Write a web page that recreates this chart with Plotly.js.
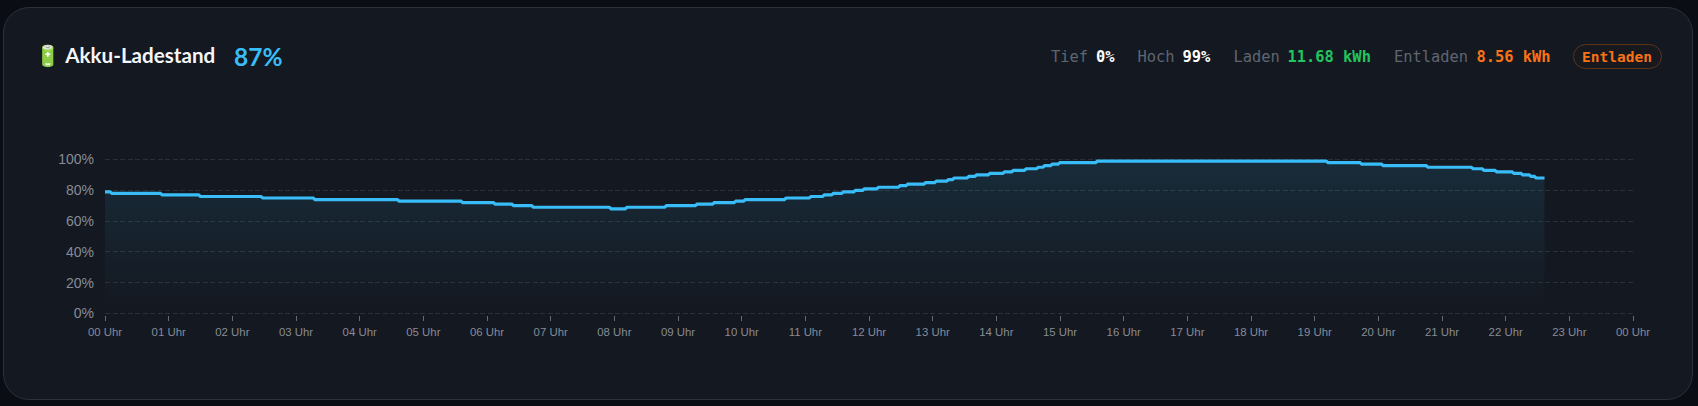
<!DOCTYPE html>
<html lang="de">
<head>
<meta charset="utf-8">
<script src="https://cdn.plot.ly/plotly-3.0.1.min.js"></script>
<style>
html,body{margin:0;padding:0;width:1698px;height:406px;background:#0a0d14;overflow:hidden}
#card{position:absolute;left:3px;top:7px;width:1690px;height:393px;box-sizing:border-box;background:#141820;border:1px solid #2c303a;border-radius:26px}
#chart{position:absolute;left:0;top:0;width:1698px;height:406px}
.t{position:absolute;white-space:pre;line-height:1}
#title{left:35px;top:43px;font:700 20.6px Lato,sans-serif;color:#f4f5f7}
#big{left:234px;top:42px;font:700 24.5px Lato,sans-serif;color:#38bdf8}
.s{top:48px;font:15.4px "DejaVu Sans Mono",monospace;color:#5f6672}
.b{font-weight:700}
#pill{position:absolute;left:1572.5px;top:43.5px;width:89px;height:25px;box-sizing:border-box;border:1px solid #5a3419;border-radius:13px;background:rgba(249,115,22,.015);color:#f97316;font:700 14.5px/24px "DejaVu Sans Mono",monospace;text-align:center}
</style>
</head>
<body>
<div id="card"></div>
<div id="chart"></div>
<div class="t" id="title"></div>
<div class="t" id="big"></div>
<div id="stats"></div>
<div id="pill"></div>
<script>
// Level ends: each SoC level holds until the given hour of the day
const levelEndHours = [0.08,0.87,1.47,2.45,3.27,4.59,5.59,6.10,6.39,6.70,7.92,8.17,8.79,9.27,9.54,9.88,10.03,10.67,11.06,11.27,11.41,11.57,11.76,11.90,12.12,12.46,12.58,12.86,13.03,13.22,13.31,13.54,13.66,13.87,14.10,14.24,14.44,14.63,14.73,14.85,14.97,15.56,19.18,19.71,20.05,20.75,21.46,21.63,21.83,22.10,22.24,22.37,22.45,22.61];
const levelValues   = [79,78,77,76,75,74,73,72,71,70,69,68,69,70,71,72,73,74,75,76,77,78,79,80,81,82,83,84,85,86,87,88,89,90,91,92,93,94,95,96,97,98,99,98,97,96,95,94,93,92,91,90,89,88];
const tickHours = [0,1,2,3,4,5,6,7,8,9,10,11,12,13,14,15,16,17,18,19,20,21,22,23,24];
const tickLabels = ["00 Uhr","01 Uhr","02 Uhr","03 Uhr","04 Uhr","05 Uhr","06 Uhr","07 Uhr","08 Uhr","09 Uhr","10 Uhr","11 Uhr","12 Uhr","13 Uhr","14 Uhr","15 Uhr","16 Uhr","17 Uhr","18 Uhr","19 Uhr","20 Uhr","21 Uhr","22 Uhr","23 Uhr","00 Uhr"];
const yTicks = [0,20,40,60,80,100];
const yLabels = ["0%","20%","40%","60%","80%","100%"];
const titleText = "🔋 Akku-Ladestand", currentText = "87%", stateText = "Entladen";
const statLabels = ["Tief","Hoch","Laden","Entladen"];
const statValues = ["0%","99%","11.68 kWh","8.56 kWh"];
const statColors = ["#ffffff","#ffffff","#22c55e","#f97316"];
const statLabelX = [1051,1137.5,1233.5,1394];
const statValueX = [1096,1182.5,1287.5,1476.5];

document.getElementById('title').textContent = titleText;
document.getElementById('big').textContent = currentText;
document.getElementById('pill').textContent = stateText;
const st = document.getElementById('stats');
statLabels.forEach((l,i)=>{
  const a=document.createElement('div');a.className='t s';a.style.left=statLabelX[i]+'px';a.textContent=l;st.appendChild(a);
  const b=document.createElement('div');b.className='t s b';b.style.left=statValueX[i]+'px';b.style.color=statColors[i];b.textContent=statValues[i];st.appendChild(b);
});

// each level is drawn from just after the previous level's end to its own end
const xs=[0], ys=[levelValues[0]];
levelValues.forEach((v,i)=>{
  if(i>0){xs.push(levelEndHours[i-1]+0.03);ys.push(v);}
  xs.push(levelEndHours[i]);ys.push(v);
});

Plotly.newPlot('chart',[{
  x:xs,y:ys,type:'scatter',mode:'lines',
  line:{color:'#38bdf8',width:3.2,shape:'linear'},
  fill:'tozeroy',
  fillgradient:{type:'vertical',colorscale:[[0,'rgba(56,189,248,0)'],[1,'rgba(56,189,248,0.12)']]},
  hoverinfo:'skip',showlegend:false
}],{
  width:1698,height:406,
  paper_bgcolor:'rgba(0,0,0,0)',plot_bgcolor:'rgba(0,0,0,0)',
  margin:{l:104.7,r:65,t:157.8,b:90.5,pad:0},
  showlegend:false,
  xaxis:{range:[0,24],tickmode:'array',tickvals:tickHours,ticktext:tickLabels,
    showgrid:false,zeroline:false,showline:false,ticks:'outside',ticklen:5,tickwidth:1,tickcolor:'#666c77',
    ticklabelstandoff:1,
    tickfont:{family:'"Liberation Sans",Arial,sans-serif',size:11.4,color:'#868c97'}},
  yaxis:{range:[-1,101],tickmode:'array',tickvals:yTicks,ticktext:yLabels,
    showgrid:true,gridcolor:'rgba(255,255,255,0.1)',griddash:'5px,2.5px',gridwidth:1,
    zeroline:false,showline:false,ticks:'',ticklabelstandoff:10,
    tickfont:{family:'"Liberation Sans",Arial,sans-serif',size:14,color:'#868c97'}}
},{staticPlot:true,displayModeBar:false});
</script>
</body>
</html>
